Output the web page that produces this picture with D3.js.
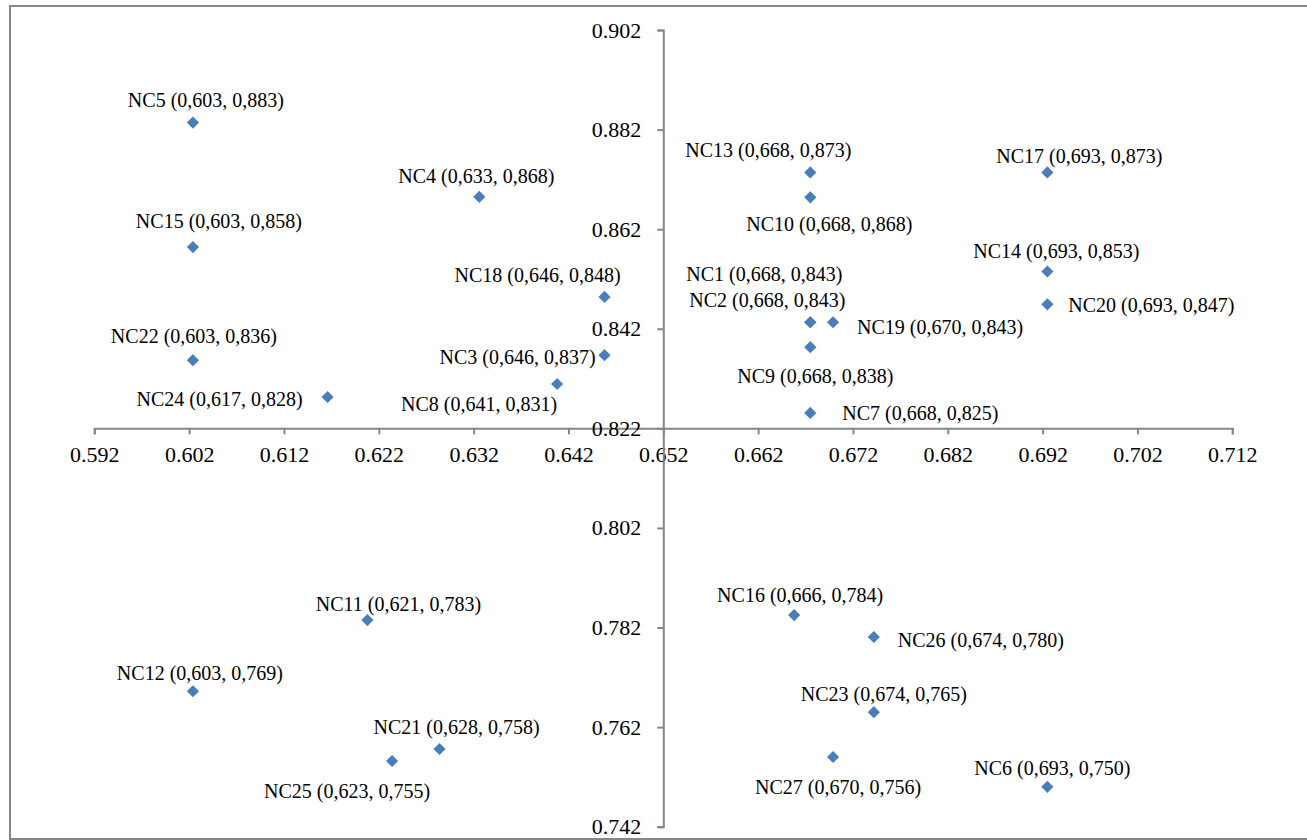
<!DOCTYPE html>
<html><head><meta charset="utf-8">
<script src="https://cdn.jsdelivr.net/npm/d3@7"></script>
<style>
body{margin:0;background:#fff}
svg{display:block}
text{font-family:"Liberation Serif","Times New Roman",serif;fill:#000}
</style>
</head><body>
<svg id="c" width="1307" height="840"></svg>
<script>
const names = ["NC1","NC2","NC3","NC4","NC5","NC6","NC7","NC8","NC9","NC10","NC11","NC12","NC13","NC14","NC15","NC16","NC17","NC18","NC19","NC20","NC21","NC22","NC23","NC24","NC25","NC26","NC27"];
const xValues = [0.6675,0.6675,0.6458,0.6326,0.6024,0.6925,0.6675,0.6408,0.6675,0.6675,0.6208,0.6024,0.6675,0.6925,0.6024,0.6658,0.6925,0.6458,0.6699,0.6925,0.6284,0.6024,0.6742,0.6166,0.6234,0.6742,0.6699];
const yValues = [0.8433,0.8433,0.8367,0.8685,0.8834,0.7500,0.8251,0.8309,0.8383,0.8684,0.7835,0.7692,0.8734,0.8535,0.8584,0.7845,0.8734,0.8484,0.8433,0.8469,0.7576,0.8357,0.7650,0.8283,0.7552,0.7801,0.7560];
const labelTexts = ["NC1 (0,668, 0,843)","NC2 (0,668, 0,843)","NC3 (0,646, 0,837)","NC4 (0,633, 0,868)","NC5 (0,603, 0,883)","NC6 (0,693, 0,750)","NC7 (0,668, 0,825)","NC8 (0,641, 0,831)","NC9 (0,668, 0,838)","NC10 (0,668, 0,868)","NC11 (0,621, 0,783)","NC12 (0,603, 0,769)","NC13 (0,668, 0,873)","NC14 (0,693, 0,853)","NC15 (0,603, 0,858)","NC16 (0,666, 0,784)","NC17 (0,693, 0,873)","NC18 (0,646, 0,848)","NC19 (0,670, 0,843)","NC20 (0,693, 0,847)","NC21 (0,628, 0,758)","NC22 (0,603, 0,836)","NC23 (0,674, 0,765)","NC24 (0,617, 0,828)","NC25 (0,623, 0,755)","NC26 (0,674, 0,780)","NC27 (0,670, 0,756)"];
const xTicks = [0.592,0.602,0.612,0.622,0.632,0.642,0.652,0.662,0.672,0.682,0.692,0.702,0.712];
const yTicks = [0.742,0.762,0.782,0.802,0.822,0.842,0.862,0.882,0.902];
// label placement (pixel offsets from the marker centre)
const labelOffsets = [[-46,-48],[-43,-22],[-87,2],[-3,-21],[13,-23],[5,-19],[110,0],[-78,20],[5,29],[19,27],[31,-16],[7,-18],[-42,-22],[9,-20],[26,-26],[6,-20],[32,-16],[-67,-22],[107,5],[104,1],[17,-22],[1,-24],[10,-18],[-108,2],[-45,30],[107,3],[5,30]];

const svg = d3.select("#c");
const axisColor = "#868686";
const markerColor = "#4A7EBB";

svg.append("rect").attr("x",10).attr("y",6).attr("width",1320).attr("height",833)
  .attr("fill","none").attr("stroke",axisColor).attr("stroke-width",2);

const x = d3.scaleLinear().domain([0.592,0.712]).range([94.3,1232.3]);
const y = d3.scaleLinear().domain([0.742,0.902]).range([826.7,30]);
const fmt = d3.format(".3f");

const xAxisG = svg.append("g").attr("transform",`translate(0,${y(0.822)})`)
  .call(d3.axisBottom(x).tickValues(xTicks).tickFormat(fmt).tickSize(6).tickSizeOuter(6).tickPadding(12));
const yAxisG = svg.append("g").attr("transform",`translate(${x(0.652)},0)`)
  .call(d3.axisLeft(y).tickValues(yTicks).tickFormat(fmt).tickSize(6).tickSizeOuter(6).tickPadding(16));

[xAxisG,yAxisG].forEach(g=>{
  g.select(".domain").attr("stroke",axisColor).attr("stroke-width",2);
  g.selectAll(".tick line").attr("stroke",axisColor).attr("stroke-width",2);
  g.selectAll(".tick text").style("font-family","Liberation Serif").style("font-size","22px").attr("fill","#000");
});

const pts = names.map((n,i)=>({n, x:xValues[i], y:yValues[i], t:labelTexts[i], o:labelOffsets[i]}));

svg.append("g").selectAll("path").data(pts).join("path")
  .attr("d", d3.symbol(d3.symbolSquare, 74)())
  .attr("transform", d=>`translate(${x(d.x)},${y(d.y)}) rotate(45)`)
  .attr("fill", markerColor);

svg.append("g").selectAll("text").data(pts).join("text")
  .attr("x", d=>x(d.x)+d.o[0]).attr("y", d=>y(d.y)+d.o[1])
  .attr("text-anchor","middle").attr("dominant-baseline","central")
  .style("font-size","20px")
  .text(d=>d.t);
</script>
</body></html>
